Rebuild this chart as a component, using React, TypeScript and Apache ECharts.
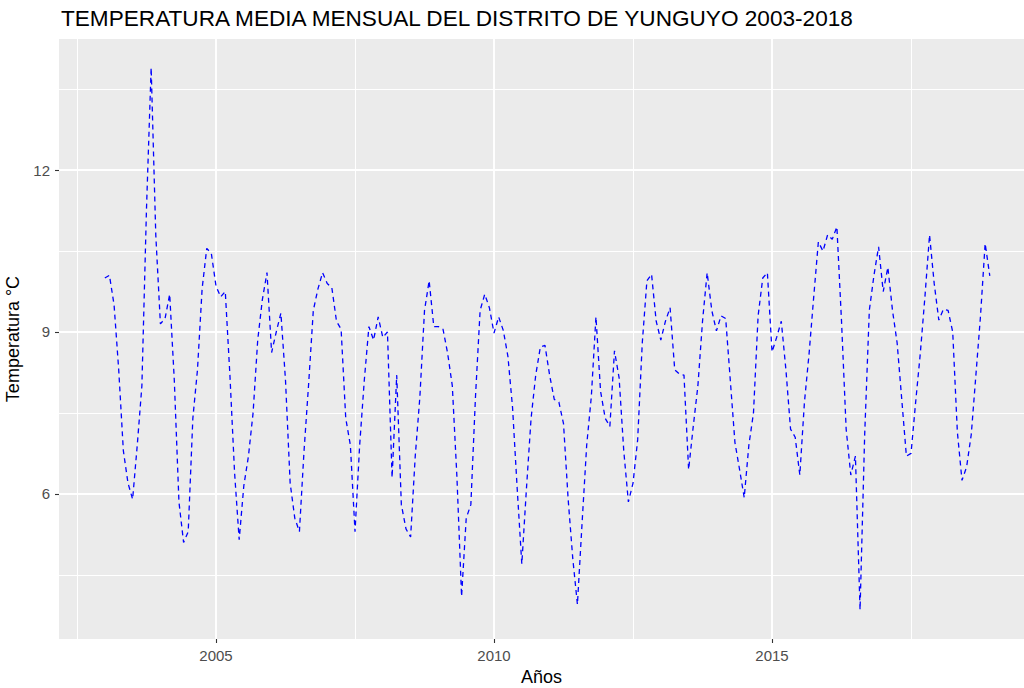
import React, { useEffect, useRef } from 'react';
import * as echarts from 'echarts';

const years = [2003, 2004, 2005, 2006, 2007, 2008, 2009, 2010, 2011, 2012, 2013, 2014, 2015, 2016, 2017, 2018];

const t2003 = [10.0, 10.05, 9.5, 8.3, 6.8, 6.2, 5.9, 6.9, 8.0, 11.3, 13.9, 10.8];
const t2004 = [9.15, 9.25, 9.7, 8.1, 5.85, 5.1, 5.3, 7.4, 8.3, 9.8, 10.55, 10.45];
const t2005 = [9.85, 9.65, 9.75, 8.2, 6.4, 5.15, 6.15, 6.7, 7.5, 8.85, 9.6, 10.1];
const t2006 = [8.62, 9.0, 9.35, 8.1, 6.2, 5.55, 5.3, 6.8, 8.05, 9.4, 9.8, 10.1];
const t2007 = [9.9, 9.82, 9.2, 9.05, 7.4, 6.9, 5.3, 6.9, 8.1, 9.1, 8.85, 9.28];
const t2008 = [8.9, 9.0, 6.3, 8.2, 5.8, 5.35, 5.2, 6.7, 7.8, 9.4, 9.95, 9.1];
const t2009 = [9.1, 9.05, 8.6, 8.0, 6.3, 4.1, 5.55, 5.8, 7.8, 9.4, 9.7, 9.45];
const t2010 = [8.98, 9.28, 9.03, 8.55, 7.6, 6.1, 4.7, 6.1, 7.4, 8.2, 8.72, 8.75];
const t2011 = [8.2, 7.75, 7.7, 7.3, 5.9, 4.8, 3.95, 5.45, 6.9, 7.8, 9.28, 7.9];
const t2012 = [7.4, 7.25, 8.65, 8.15, 6.8, 5.85, 6.2, 7.0, 8.8, 9.95, 10.07, 9.2];
const t2013 = [8.85, 9.2, 9.45, 8.3, 8.22, 8.2, 6.45, 7.25, 8.0, 9.2, 10.1, 9.4];
const t2014 = [9.02, 9.3, 9.25, 8.1, 6.95, 6.45, 5.93, 6.9, 7.5, 9.3, 10.0, 10.1];
const t2015 = [8.63, 8.9, 9.2, 8.3, 7.2, 7.05, 6.35, 7.7, 8.6, 9.65, 10.67, 10.5];
const t2016 = [10.8, 10.72, 10.95, 9.2, 7.2, 6.35, 6.7, 3.85, 7.1, 9.4, 10.05, 10.58];
const t2017 = [9.75, 10.2, 9.4, 8.8, 7.75, 6.7, 6.75, 7.7, 8.6, 9.65, 10.8, 9.9];
const t2018 = [9.22, 9.42, 9.4, 9.0, 7.15, 6.25, 6.5, 7.1, 8.2, 9.3, 10.64, 10.04];

const monthlyByYear = [t2003, t2004, t2005, t2006, t2007, t2008, t2009, t2010, t2011, t2012, t2013, t2014, t2015, t2016, t2017, t2018];

const xMajorTicks = [2005, 2010, 2015];
const xMinorGrid = [2002.5, 2007.5, 2012.5, 2017.5];
const yMajorTicks = [6, 9, 12];
const yMinorGrid = [4.5, 7.5, 10.5, 13.5];

export default function App() {
  const ref = useRef<HTMLDivElement>(null);

  useEffect(() => {
    if (!ref.current) return;
    const chart = echarts.init(ref.current, null, { renderer: 'svg' });
    const data: number[][] = [];
    years.forEach((y, i) => {
      monthlyByYear[i].forEach((v, m) => data.push([y + m / 12, v]));
    });
    const font = "'Liberation Sans', Arial, sans-serif";
    const major = { color: '#FFFFFF', width: 1.9, type: 'solid' };
    const minor = { color: '#FFFFFF', width: 1.0, type: 'solid' };
    const gridLines = [
      ...xMinorGrid.map((v) => ({ xAxis: v, lineStyle: minor })),
      ...yMinorGrid.map((v) => ({ yAxis: v, lineStyle: minor })),
      ...xMajorTicks.map((v) => ({ xAxis: v, lineStyle: major })),
      ...yMajorTicks.map((v) => ({ yAxis: v, lineStyle: major })),
    ];
    const tickStyle = { color: '#333333', width: 1.1 };
    chart.setOption({
      animation: false,
      backgroundColor: '#FFFFFF',
      title: {
        text: 'TEMPERATURA MEDIA MENSUAL DEL DISTRITO DE YUNGUYO 2003-2018',
        left: 61,
        top: 7,
        padding: 0,
        textStyle: { fontFamily: font, fontSize: 22.6, fontWeight: 'normal', color: '#000000' },
      },
      grid: {
        left: 59,
        top: 39,
        right: 0,
        bottom: 49,
        show: true,
        backgroundColor: '#EBEBEB',
        borderWidth: 0,
        containLabel: false,
        outerBoundsMode: 'none',
      },
      xAxis: {
        type: 'value',
        min: 2002.176,
        max: 2019.532,
        name: 'Años',
        nameLocation: 'middle',
        nameGap: 28,
        nameTextStyle: { fontFamily: font, fontSize: 18, color: '#000000' },
        axisLine: { show: false },
        axisTick: { show: true, customValues: xMajorTicks, length: 4, lineStyle: tickStyle },
        axisLabel: {
          customValues: xMajorTicks,
          formatter: (v: number) => String(Math.round(v)),
          color: '#4D4D4D',
          fontSize: 15,
          margin: 9,
          fontFamily: font,
        },
        splitLine: { show: false },
      },
      yAxis: {
        type: 'value',
        min: 3.31,
        max: 14.43,
        name: 'Temperatura °C',
        nameLocation: 'middle',
        nameGap: 32,
        nameRotate: 90,
        nameTextStyle: { fontFamily: font, fontSize: 18, color: '#000000' },
        axisLine: { show: false },
        axisTick: { show: true, customValues: yMajorTicks, length: 4, lineStyle: tickStyle },
        axisLabel: {
          customValues: yMajorTicks,
          formatter: (v: number) => String(Math.round(v)),
          color: '#4D4D4D',
          fontSize: 15,
          margin: 9,
          fontFamily: font,
        },
        splitLine: { show: false },
      },
      series: [
        {
          type: 'line',
          data: [],
          silent: true,
          z: 1,
          markLine: {
            silent: true,
            z: 1,
            symbol: ['none', 'none'],
            label: { show: false },
            emphasis: { disabled: true },
            data: gridLines,
          },
        },
        {
          type: 'line',
          data,
          z: 3,
          showSymbol: false,
          symbol: 'none',
          lineStyle: { color: '#0000FF', width: 1.3, type: [5, 4] },
        },
      ],
    });
    return () => chart.dispose();
  }, []);

  return <div ref={ref} style={{ position: 'fixed', left: 0, top: 0, width: 1024, height: 688 }} />;
}
